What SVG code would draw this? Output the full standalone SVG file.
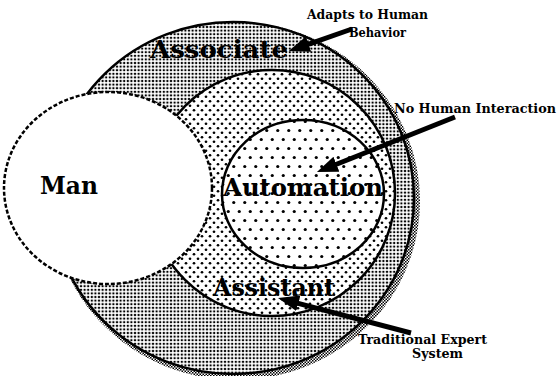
<svg xmlns="http://www.w3.org/2000/svg" width="558" height="376" viewBox="0 0 558 376">
  <defs>
    <pattern id="pDense" width="3.6" height="3.6" patternUnits="userSpaceOnUse">
      <rect width="3.6" height="3.6" fill="#fff"/>
      <circle cx="1.8" cy="1.8" r="1.2" fill="#000"/>
    </pattern>
    <pattern id="pMed" width="8" height="9" patternUnits="userSpaceOnUse">
      <rect width="8" height="9" fill="#fff"/>
      <circle cx="2" cy="2.25" r="1.35" fill="#000"/>
      <circle cx="6" cy="6.75" r="1.35" fill="#000"/>
    </pattern>
    <pattern id="pSparse" width="11" height="18" patternUnits="userSpaceOnUse">
      <rect width="11" height="18" fill="#fff"/>
      <circle cx="2.75" cy="4.5" r="1.6" fill="#000"/>
      <circle cx="8.25" cy="13.5" r="1.6" fill="#000"/>
    </pattern>
    <pattern id="pChecker" width="3" height="3" patternUnits="userSpaceOnUse">
      <rect width="3" height="3" fill="#fff"/>
      <rect width="1.5" height="1.5" fill="#000"/>
      <rect x="1.5" y="1.5" width="1.5" height="1.5" fill="#000"/>
    </pattern>
    <marker id="head" markerUnits="userSpaceOnUse" markerWidth="26" markerHeight="18" refX="8" refY="8" orient="auto">
      <path d="M0,0 L21,8 L0,16 Z" fill="#000"/>
    </marker>
  </defs>
  <style>
    .big { font-family: "DejaVu Serif", "Liberation Serif", serif; font-weight: bold; font-size: 25px; fill: #000; }
    .lbl { font-family: "DejaVu Serif", "Liberation Serif", serif; font-weight: bold; font-size: 12.5px; fill: #000; }
    .arrow { stroke: #000; stroke-width: 5; fill: none; marker-end: url(#head); }
    .ring { stroke: #000; stroke-width: 2.5; }
  </style>

  <g id="associate">
    <ellipse cx="236" cy="201" rx="181" ry="176" fill="none" stroke="url(#pChecker)" stroke-width="6"/>
    <ellipse class="ring" cx="233" cy="198" rx="181" ry="176" fill="url(#pDense)" stroke-width="3"/>
  </g>
  <g id="assistant">
    <circle class="ring" cx="272" cy="193" r="123" fill="url(#pMed)"/>
  </g>
  <g id="automation">
    <ellipse class="ring" cx="303" cy="194" rx="81" ry="74" fill="url(#pSparse)"/>
  </g>
  <g id="man">
    <ellipse cx="108" cy="188" rx="104" ry="96" fill="#fff" stroke="#000" stroke-width="2.5" stroke-dasharray="4 2"/>
    <text class="big" x="40" y="194" font-size="26" textLength="58" lengthAdjust="spacingAndGlyphs">Man</text>
  </g>

  <g id="labels">
    <text class="big" x="150" y="58" textLength="138" lengthAdjust="spacingAndGlyphs">Associate</text>
    <text class="big" x="223" y="196" textLength="160" lengthAdjust="spacingAndGlyphs">Automation</text>
    <text class="big" x="213" y="296" textLength="122" lengthAdjust="spacingAndGlyphs">Assistant</text>
    <text class="lbl" x="307" y="19" textLength="121" lengthAdjust="spacingAndGlyphs">Adapts to Human</text>
    <text class="lbl" x="349" y="37" textLength="57" lengthAdjust="spacingAndGlyphs">Behavior</text>
    <text class="lbl" x="394" y="113" textLength="162" lengthAdjust="spacingAndGlyphs">No Human Interaction</text>
    <text class="lbl" x="358" y="344" textLength="129" lengthAdjust="spacingAndGlyphs">Traditional Expert</text>
    <text class="lbl" x="412" y="358" textLength="51" lengthAdjust="spacingAndGlyphs">System</text>
  </g>

  <g id="connectors">
    <line class="arrow" x1="352" y1="29" x2="301" y2="46.8"/>
    <line class="arrow" x1="455" y1="117" x2="329" y2="167.2"/>
    <line class="arrow" x1="411" y1="333" x2="290.6" y2="301.3"/>
  </g>
</svg>
